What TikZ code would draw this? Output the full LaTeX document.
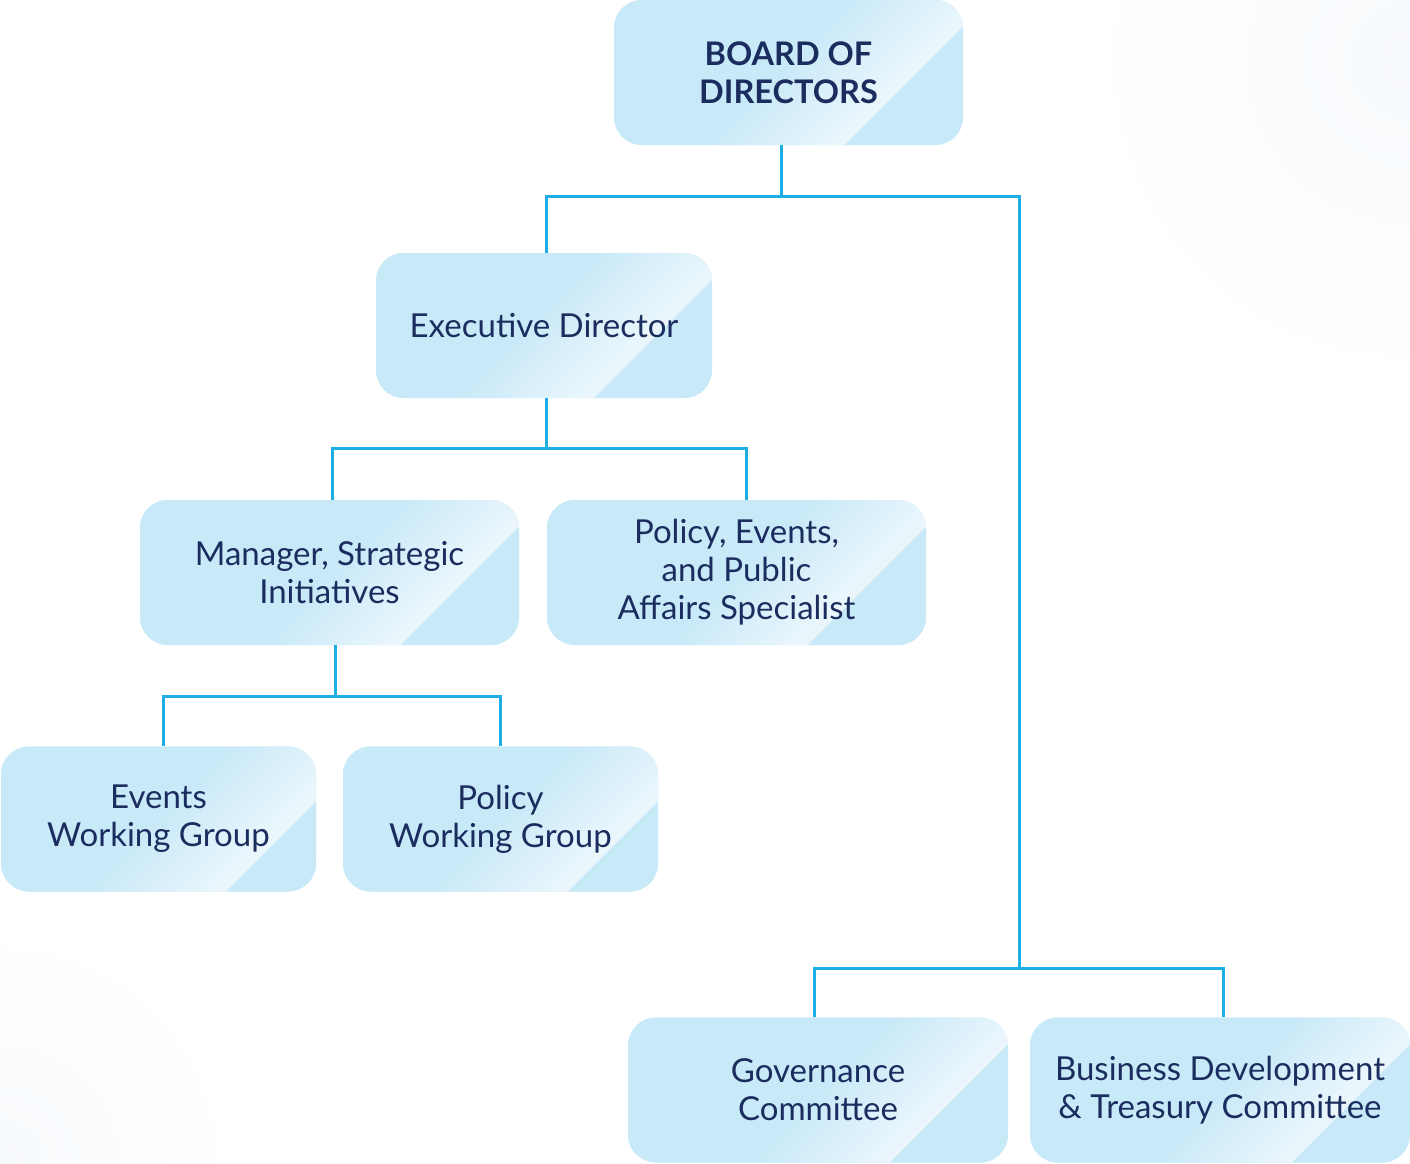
\documentclass[tikz,border=0pt]{standalone}
\usepackage{fontspec}
\setmainfont{Lato}
\usetikzlibrary{calc}

\definecolor{boxblue}{HTML}{C8E9F8}
\definecolor{boxlight}{HTML}{EAF6FC}
\definecolor{navy}{HTML}{1B2D5E}
\definecolor{linkblue}{HTML}{1DAEE6}
\definecolor{bgtint}{HTML}{F7FAFD}

\pgfdeclarehorizontalshading{sheen}{100bp}{color(0bp)=(boxblue); color(62.5bp)=(boxblue); color(74bp)=(boxlight); color(100bp)=(boxlight)}

\tikzset{
	unit/.style={rounded corners=28pt, minimum height=145pt, inner sep=0pt,
		align=center, text=navy, fill=boxblue,
		font=\fontsize{33}{38}\selectfont,
		path picture={
			\coordinate (cut) at ($(path picture bounding box.south east)+(-#1pt/2,#1pt/2)$);
			\shade[sharp corners, shading=sheen, transform canvas={rotate around={-45:(cut)}}]
				($(cut)+(-400pt,-400pt)$) rectangle ($(cut)+(0pt,400pt)$);
			\fill[sharp corners, boxblue] ($(path picture bounding box.south east)+(-#1pt,0pt)$) -- ++(#1pt,#1pt)
				-- (path picture bounding box.south east) -- cycle;
		}},
	unit/.default=118,
	link/.style={draw=linkblue, line width=3pt}
}

\begin{document}
\begin{tikzpicture}[x=1pt,y=-1pt]
\useasboundingbox (0,0) rectangle (1410,1163);
% faint background glow
\shade[inner color=bgtint, outer color=white] (1410,60) circle (330pt);
\shade[inner color=bgtint, outer color=white] (0,1163) circle (240pt);

% boxes
\node[unit, minimum width=349pt, font=\fontsize{32.5}{38}\selectfont\bfseries] (board) at (788.5,72.5) {BOARD OF\\DIRECTORS};
\node[unit, minimum width=336pt] (exec) at (544,325.5) {Executive Director};
\node[unit, minimum width=379pt] (mgr) at (329.5,572.5) {Manager, Strategic\\Initiatives};
\node[unit, minimum width=379pt] (pea) at (736.5,572.5) {Policy, Events,\\and Public\\Affairs Specialist};
\node[unit=90, minimum width=315pt] (ewg) at (158.5,819) {Events\\Working Group};
\node[unit=90, minimum width=315pt] (pwg) at (500.5,819) {Policy\\Working Group};
\node[unit, minimum width=380pt] (gov) at (818,1090) {Governance\\Committee};
\node[unit, minimum width=380pt] (btc) at (1220,1090) {Business Development\\\& Treasury Committee};

% junctions
\coordinate (bj) at (781,196);
\coordinate (ej) at (546,448);
\coordinate (mj) at (335,696);
\coordinate (cj) at (1019,968);

% connectors
\draw[link] (board.south -| bj) -- (bj);
\draw[link] (exec.north -| ej) |- (bj) -| (cj);
\draw[link] (exec.south -| ej) -- (ej);
\draw[link] ([xshift=2.5pt]mgr.north) |- (ej) -| ([xshift=9.5pt]pea.north);
\draw[link] (mgr.south -| mj) -- (mj);
\draw[link] ([xshift=4.5pt]ewg.north) |- (mj) -| (pwg.north);
\draw[link] ([xshift=-4pt]gov.north) |- (cj) -| ([xshift=3pt]btc.north);
\end{tikzpicture}
\end{document}
